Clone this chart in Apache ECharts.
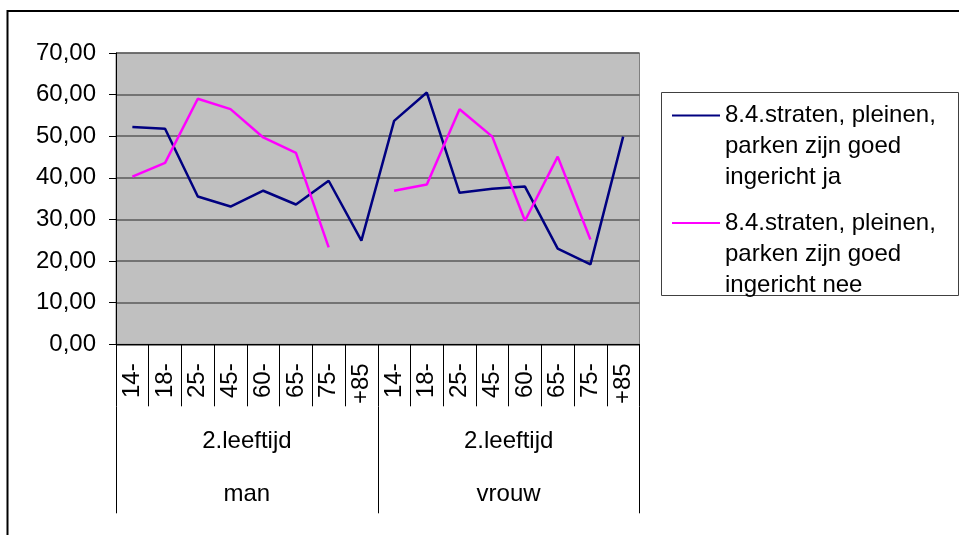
<!DOCTYPE html>
<html>
<head>
<meta charset="utf-8">
<script src="https://cdn.jsdelivr.net/npm/echarts@6/dist/echarts.min.js"></script>
<style>
  html, body { margin: 0; padding: 0; background: #fff; }
  #chart { width: 959px; height: 535px; }
</style>
</head>
<body>
<div id="chart"></div>
<script>
const FONT = "'Liberation Sans', Arial, sans-serif";

const ageCats = ['14-', '18-', '25-', '45-', '60-', '65-', '75-', '+85',
                 '14-', '18-', '25-', '45-', '60-', '65-', '75-', '+85'];
const groupLabels = ['2.leeftijd', '2.leeftijd'];
const sexLabels = ['man', 'vrouw'];
const yTickLabels = ['0,00', '10,00', '20,00', '30,00', '40,00', '50,00', '60,00', '70,00'];

const jaName = '8.4.straten, pleinen,\nparken zijn goed\ningericht ja';
const neeName = '8.4.straten, pleinen,\nparken zijn goed\ningericht nee';
const jaValues = [52.2, 51.8, 35.5, 33.1, 36.9, 33.6, 39.3, 24.9,
                  53.7, 60.5, 36.4, 37.4, 37.9, 23.0, 19.2, 49.9];
const neeValues = [40.3, 43.6, 59.0, 56.5, 49.7, 46.0, 23.3, null,
                   36.9, 38.4, 56.5, 49.9, 29.7, 45.1, 25.2, null];

let myChart = echarts.init(document.getElementById('chart'));
const LH = 31;

let options = {
    backgroundColor: '#ffffff',
    animation: false,
    textStyle: { fontFamily: FONT },
    graphic: [
        {
            type: 'rect',
            shape: { x: 7.5, y: 11, width: 1000, height: 600 },
            style: { fill: 'none', stroke: '#000', lineWidth: 2 },
            silent: true
        },
        {
            type: 'rect',
            shape: { x: 661.5, y: 92.5, width: 297, height: 203 },
            style: { fill: 'none', stroke: '#404040', lineWidth: 1 },
            silent: true
        }
    ],
    grid: {
        left: 116,
        right: 319.5,
        top: 53,
        bottom: 190.7,
        show: true,
        backgroundColor: '#c0c0c0',
        borderColor: '#808080',
        borderWidth: 1
    },
    legend: {
        orient: 'vertical',
        left: 672,
        top: 38,
        padding: 0,
        icon: 'rect',
        itemWidth: 48,
        itemHeight: 2,
        itemGap: -47.5,
        selectedMode: false,
        data: [jaName, neeName],
        formatter: function (name) {
            // two empty lines first, so the icon sits next to the first real line
            return '\n\n' + name;
        },
        textStyle: {
            fontFamily: FONT,
            fontSize: 24,
            color: '#000',
            lineHeight: LH
        }
    },
    xAxis: [
        {
            type: 'category',
            data: ageCats,
            position: 'bottom',
            axisLine: { show: true, lineStyle: { color: '#000', width: 1 } },
            axisTick: { show: true, interval: 0, length: 62, lineStyle: { color: '#000', width: 1 } },
            axisLabel: {
                interval: 0,
                rotate: 90,
                margin: 19,
                fontSize: 24,
                color: '#000',
                fontFamily: FONT
            },
            splitLine: { show: false }
        },
        {
            type: 'category',
            data: groupLabels,
            position: 'bottom',
            offset: 62,
            axisLine: { show: false },
            axisTick: { show: true, interval: 0, length: 107, lineStyle: { color: '#000', width: 1 } },
            axisLabel: {
                interval: 0,
                margin: 23,
                fontSize: 24,
                color: '#000',
                fontFamily: FONT
            }
        },
        {
            type: 'category',
            data: sexLabels,
            position: 'bottom',
            offset: 62,
            axisLine: { show: false },
            axisTick: { show: false },
            axisLabel: {
                interval: 0,
                margin: 76,
                fontSize: 24,
                color: '#000',
                fontFamily: FONT
            }
        }
    ],
    yAxis: {
        type: 'value',
        min: 0,
        max: 70,
        interval: 10,
        axisLine: { show: true, lineStyle: { color: '#000', width: 1 } },
        axisTick: { show: true, length: 7, lineStyle: { color: '#000' } },
        axisLabel: {
            margin: 20,
            fontSize: 24,
            color: '#000',
            fontFamily: FONT,
            formatter: function (v) {
                return yTickLabels[Math.round(v / 10)];
            }
        },
        splitLine: { show: true, lineStyle: { color: '#5a5a5a', width: 1.5 } }
    },
    series: [
        {
            name: jaName,
            type: 'line',
            xAxisIndex: 0,
            data: jaValues,
            symbol: 'none',
            lineStyle: { color: '#000080', width: 2.5 },
            itemStyle: { color: '#000080' }
        },
        {
            name: neeName,
            type: 'line',
            xAxisIndex: 0,
            data: neeValues,
            symbol: 'none',
            connectNulls: false,
            lineStyle: { color: '#ff00ff', width: 2.5 },
            itemStyle: { color: '#ff00ff' }
        }
    ]
};

myChart.setOption(options);
</script>
</body>
</html>
